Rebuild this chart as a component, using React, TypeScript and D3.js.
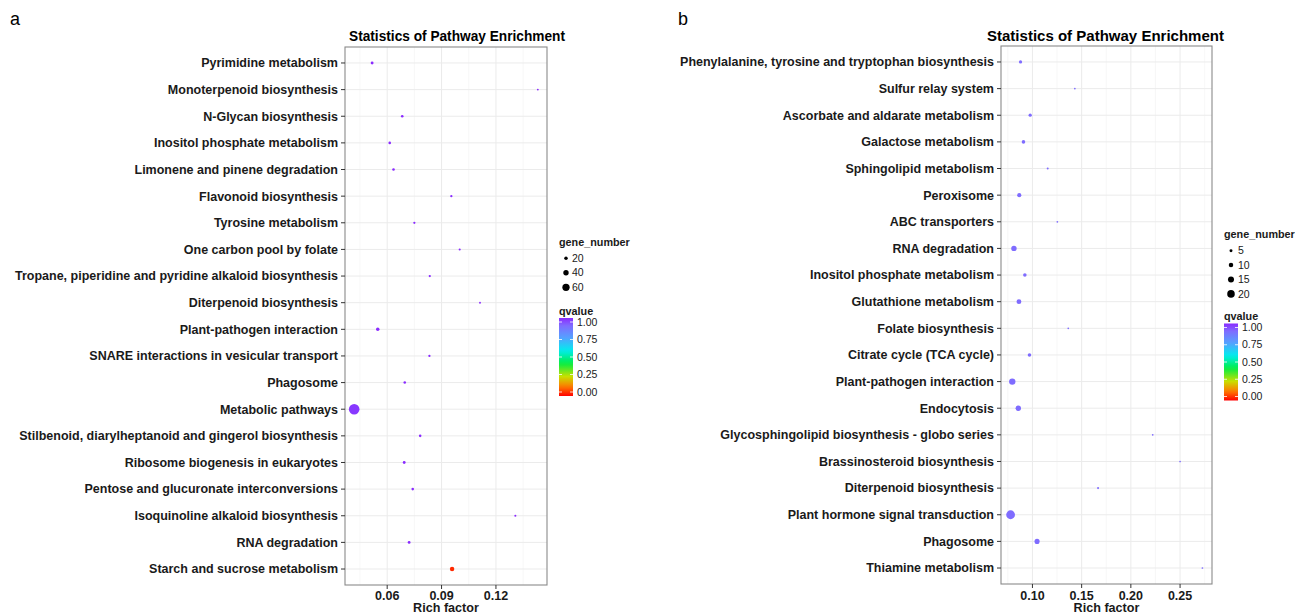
import React from 'react'
import * as d3 from 'd3'

// panel a
const pathwaysA = [
  'Pyrimidine metabolism',
  'Monoterpenoid biosynthesis',
  'N-Glycan biosynthesis',
  'Inositol phosphate metabolism',
  'Limonene and pinene degradation',
  'Flavonoid biosynthesis',
  'Tyrosine metabolism',
  'One carbon pool by folate',
  'Tropane, piperidine and pyridine alkaloid biosynthesis',
  'Diterpenoid biosynthesis',
  'Plant-pathogen interaction',
  'SNARE interactions in vesicular transport',
  'Phagosome',
  'Metabolic pathways',
  'Stilbenoid, diarylheptanoid and gingerol biosynthesis',
  'Ribosome biogenesis in eukaryotes',
  'Pentose and glucuronate interconversions',
  'Isoquinoline alkaloid biosynthesis',
  'RNA degradation',
  'Starch and sucrose metabolism',
]
const richA = [0.0517, 0.1431, 0.0683, 0.0614, 0.0635, 0.0954, 0.075, 0.1, 0.0835, 0.1112,
  0.0548, 0.0833, 0.0697, 0.0418, 0.0782, 0.0694, 0.0741, 0.1307, 0.0721, 0.0958]
const genesA = [13, 3, 10, 10, 10, 7, 7, 5, 7, 3, 20, 7, 10, 95, 10, 13, 10, 5, 13, 30]
const qA = [1, 1, 1, 1, 1, 1, 1, 1, 1, 1, 1, 1, 1, 0.98, 1, 1, 1, 1, 1, 0.04]
const ticksA = [0.06, 0.09, 0.12]
const minorA = [0.045, 0.075, 0.105, 0.135]
const sizeBreaksA = [20, 40, 60]

// panel b
const pathwaysB = [
  'Phenylalanine, tyrosine and tryptophan biosynthesis',
  'Sulfur relay system',
  'Ascorbate and aldarate metabolism',
  'Galactose metabolism',
  'Sphingolipid metabolism',
  'Peroxisome',
  'ABC transporters',
  'RNA degradation',
  'Inositol phosphate metabolism',
  'Glutathione metabolism',
  'Folate biosynthesis',
  'Citrate cycle (TCA cycle)',
  'Plant-pathogen interaction',
  'Endocytosis',
  'Glycosphingolipid biosynthesis - globo series',
  'Brassinosteroid biosynthesis',
  'Diterpenoid biosynthesis',
  'Plant hormone signal transduction',
  'Phagosome',
  'Thiamine metabolism',
]
const richB = [0.0879, 0.1431, 0.0977, 0.0909, 0.1155, 0.0866, 0.1253, 0.0812, 0.0923, 0.0863,
  0.1364, 0.097, 0.0795, 0.0856, 0.2222, 0.25, 0.1667, 0.0778, 0.1047, 0.2727]
const genesB = [6, 1, 6, 7, 2, 9, 1, 13, 7, 11, 1, 7, 16, 13, 1, 1, 2, 24, 12, 1]
const qB = [0.9, 0.9, 0.9, 0.9, 0.9, 0.9, 0.9, 0.9, 0.9, 0.9,
  0.9, 0.9, 0.9, 0.9, 0.9, 0.9, 0.9, 0.9, 0.9, 0.9]
const ticksB = [0.1, 0.15, 0.2, 0.25]
const minorB = [0.075, 0.125, 0.175, 0.225, 0.275]
const sizeBreaksB = [5, 10, 15, 20]

// qvalue colour scale
const qStops = [0, 0.12, 0.25, 0.42, 0.58, 0.75, 0.9, 1]
const qColors = ['#FF0000', '#FF7A00', '#C8E000', '#00EE44', '#00EEEE', '#55A0FF', '#7F6CFF', '#8A2BFF']
const qTicks = [1, 0.75, 0.5, 0.25, 0]

const color = d3.scaleLinear<string>().domain(qStops).range(qColors)

const FONT = '"Liberation Sans", Arial, Helvetica, sans-serif'
const INK = '#1a1a1a'

function Panel(props) {
  const p = props
  const { l, r, t, b } = p.box
  const ext = d3.extent(p.rich) as [number, number]
  const pad = (ext[1] - ext[0]) * 0.05
  const x = d3.scaleLinear().domain([ext[0] - pad, ext[1] + pad]).range([l, r])
  const y = d3.scalePoint().domain(p.labels).range([t, b]).padding(0.6)
  const size = d3.scaleLinear().domain([0, p.sizeMax]).range(p.rRange)
  const lg = p.legend
  const qy = d3.scaleLinear().domain([0, 1]).range([lg.barBot - 4, lg.barTop + 4])
  const gid = `grad-${p.tag}`

  return (
    <g fontFamily={FONT}>
      <text x={p.tagX} y={25} fontSize={18} fill="#000">{p.tag}</text>
      <text x={p.titleX} y={41} fontSize={15} fontWeight="bold" textAnchor="middle"
        textLength={p.titleLen} lengthAdjust="spacingAndGlyphs" fill="#000">
        Statistics of Pathway Enrichment
      </text>

      <rect x={l} y={t} width={r - l} height={b - t} fill="#fff" />
      {p.minor.map(v => (
        <line key={'m' + v} x1={x(v)} x2={x(v)} y1={t} y2={b} stroke="#f2f2f2" strokeWidth={0.6} />
      ))}
      {p.ticks.map(v => (
        <line key={'g' + v} x1={x(v)} x2={x(v)} y1={t} y2={b} stroke="#ebebeb" strokeWidth={1} />
      ))}
      {p.labels.map(d => (
        <line key={'h' + d} x1={l} x2={r} y1={y(d)} y2={y(d)} stroke="#ebebeb" strokeWidth={1} />
      ))}

      {p.labels.map((d, i) => (
        <circle key={'c' + d} cx={x(p.rich[i])} cy={y(d)} r={size(p.genes[i])} fill={color(p.q[i])} />
      ))}

      <rect x={l} y={t} width={r - l} height={b - t} fill="none" stroke="#8a8a8a" strokeWidth={1.1} />

      {p.labels.map(d => (
        <g key={'y' + d}>
          <line x1={l - 4} x2={l} y1={y(d)} y2={y(d)} stroke="#333" strokeWidth={1} />
          <text x={l - 7} y={y(d)} dy="0.35em" textAnchor="end" fontSize={12.5} fontWeight="bold" fill={INK}>{d}</text>
        </g>
      ))}
      {p.ticks.map(v => (
        <g key={'x' + v}>
          <line x1={x(v)} x2={x(v)} y1={b} y2={b + 4} stroke="#333" strokeWidth={1} />
          <text x={x(v)} y={600} textAnchor="middle" fontSize={12.5} fontWeight="bold" fill={INK}>{d3.format('.2f')(v)}</text>
        </g>
      ))}
      <text x={(l + r) / 2} y={612} textAnchor="middle" fontSize={12.6} fontWeight="bold" fill={INK}>Rich factor</text>

      {/* legend: gene_number */}
      <text x={lg.x} y={lg.sizeTitleY} fontSize={10.8} fontWeight="bold" fill={INK}>gene_number</text>
      {p.sizeBreaks.map((v, i) => (
        <g key={'s' + v}>
          <circle cx={lg.dotX} cy={lg.sizeY0 + i * lg.sizeStep} r={size(v)} fill="#000" />
          <text x={lg.sizeLabX} y={lg.sizeY0 + i * lg.sizeStep} dy="0.35em" fontSize={10.5} fill={INK}>{v}</text>
        </g>
      ))}

      {/* legend: qvalue */}
      <text x={lg.x} y={lg.qTitleY} fontSize={10.8} fontWeight="bold" fill={INK}>qvalue</text>
      <defs>
        <linearGradient id={gid} x1="0" x2="0" y1="1" y2="0">
          {d3.range(0, 1.0001, 0.05).map(v => (
            <stop key={v} offset={v} stopColor={color(v)} />
          ))}
        </linearGradient>
      </defs>
      <rect x={lg.x} y={lg.barTop} width={lg.barW} height={lg.barBot - lg.barTop} fill={`url(#${gid})`} />
      {qTicks.map(v => (
        <g key={'q' + v}>
          <line x1={lg.x} x2={lg.x + 3} y1={qy(v)} y2={qy(v)} stroke="#fff" strokeWidth={0.8} />
          <line x1={lg.x + lg.barW - 3} x2={lg.x + lg.barW} y1={qy(v)} y2={qy(v)} stroke="#fff" strokeWidth={0.8} />
          <text x={lg.x + lg.barW + 4} y={qy(v)} dy="0.35em" fontSize={10.5} fill={INK}>{d3.format('.2f')(v)}</text>
        </g>
      ))}
    </g>
  )
}

export default function App() {
  return (
    <svg width={1295} height={612} style={{ position: 'absolute', left: 0, top: 0, background: '#fff' }}>
      <rect width={1295} height={612} fill="#fff" />
      <Panel
        tag="a" tagX={10} titleX={457} titleLen={216}
        labels={pathwaysA} rich={richA} genes={genesA} q={qA}
        ticks={ticksA} minor={minorA} sizeBreaks={sizeBreaksA}
        sizeMax={95} rRange={[0.8, 5.3]}
        box={{ l: 345, r: 547, t: 47, b: 585 }}
        legend={{ x: 559, sizeTitleY: 246, dotX: 566, sizeY0: 258.3, sizeStep: 14.5, sizeLabX: 572,
          qTitleY: 315, barTop: 318, barBot: 396, barW: 14 }}
      />
      <Panel
        tag="b" tagX={678} titleX={1105.5} titleLen={237}
        labels={pathwaysB} rich={richB} genes={genesB} q={qB}
        ticks={ticksB} minor={minorB} sizeBreaks={sizeBreaksB}
        sizeMax={24} rRange={[0.7, 4.4]}
        box={{ l: 1001, r: 1212, t: 46, b: 584 }}
        legend={{ x: 1224, sizeTitleY: 238, dotX: 1231, sizeY0: 250.7, sizeStep: 14.4, sizeLabX: 1238,
          qTitleY: 320, barTop: 323.5, barBot: 400.5, barW: 14 }}
      />
    </svg>
  )
}
